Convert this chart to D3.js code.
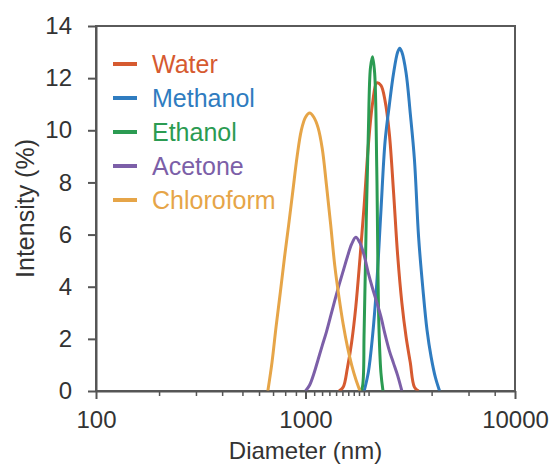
<!DOCTYPE html>
<html>
<head>
<meta charset="utf-8">
<script src="https://cdn.jsdelivr.net/npm/d3@7"></script>
<style>
  html, body { margin: 0; padding: 0; background: #fff; }
  svg text { font-family: "Liberation Sans", Arial, sans-serif; }
</style>
</head>
<body>
<svg id="chart" width="554" height="469"></svg>
<script>
// Size distributions (intensity-weighted) for particles dispersed in each solvent
const seriesNames = ["Water", "Methanol", "Ethanol", "Acetone", "Chloroform"];
const seriesColors = ["#d65a30", "#2f7cc0", "#2b9b52", "#7c5fa8", "#e6a548"];

const waterSizes = [1445, 1514, 1585, 1660, 1738, 1820, 1905, 1995, 2089, 2188, 2291, 2399, 2512, 2630, 2754, 2884, 3020, 3162, 3311, 3467];
const waterValues = [0, 0.15, 0.88, 1.86, 3.23, 5.09, 7.11, 9.42, 11.03, 11.82, 11.72, 11.12, 9.88, 7.67, 5.20, 3.38, 2.08, 1.10, 0.15, 0];

const methanolSizes = [1905, 1995, 2089, 2188, 2291, 2399, 2512, 2630, 2754, 2818, 2884, 3020, 3162, 3311, 3467, 3631, 3802, 3981, 4169, 4365];
const methanolValues = [0, 0.72, 2.10, 4.11, 6.90, 9.59, 10.96, 12.17, 13.0, 13.15, 13.0, 12.21, 10.66, 8.88, 5.89, 3.95, 2.34, 1.29, 0.52, 0];

const ethanolSizes = [1820, 1862, 1905, 1950, 1995, 2042, 2089, 2138, 2188, 2239, 2291, 2344];
const ethanolValues = [0, 0.1, 2.3, 6.6, 9.9, 12.4, 12.82, 12.2, 8.6, 2.6, 0.7, 0];

const acetoneSizes = [1000, 1047, 1096, 1148, 1202, 1259, 1318, 1380, 1445, 1514, 1585, 1660, 1738, 1820, 1905, 1995, 2089, 2188, 2291, 2399, 2512, 2630, 2754, 2884];
const acetoneValues = [0, 0.23, 0.66, 1.20, 1.74, 2.27, 2.87, 3.48, 4.06, 4.61, 5.15, 5.63, 5.90, 5.68, 5.20, 4.52, 3.94, 3.41, 2.85, 2.16, 1.55, 1.07, 0.59, 0];

const chloroformSizes = [661, 692, 724, 759, 794, 832, 871, 912, 955, 1000, 1047, 1096, 1148, 1202, 1259, 1318, 1380, 1445, 1514, 1585, 1660, 1738, 1820];
const chloroformValues = [0, 1.1, 2.48, 3.81, 5.13, 6.4, 7.7, 9.0, 10.0, 10.5, 10.66, 10.5, 10.1, 9.3, 7.9, 6.4, 4.8, 3.6, 2.55, 1.7, 1.0, 0.45, 0];

const xMajorTicks = [100, 1000, 10000];
const xMinorTicks = [200, 300, 400, 500, 600, 700, 800, 900,
                     1100, 1200, 1300, 1400, 1500, 1600, 1700, 1800, 1900,
                     2000, 4000, 6000, 8000];
const yTicks = [0, 2, 4, 6, 8, 10, 12, 14];

const seriesSizes = [waterSizes, methanolSizes, ethanolSizes, acetoneSizes, chloroformSizes];
const seriesValues = [waterValues, methanolValues, ethanolValues, acetoneValues, chloroformValues];

const series = seriesNames.map((name, i) => ({
  name,
  color: seriesColors[i],
  points: seriesSizes[i].map((s, j) => ({ size: s, value: seriesValues[i][j] }))
}));

const plot = { left: 96, right: 515, top: 26, bottom: 391 };
const svg = d3.select("#chart");

const x = d3.scaleLog().domain([100, 10000]).range([plot.left, plot.right]);
const y = d3.scaleLinear().domain([0, 14]).range([plot.bottom, plot.top]);

// keep the smoothed curves inside the plot area
svg.append("defs").append("clipPath").attr("id", "plot-clip")
  .append("rect")
  .attr("x", plot.left).attr("y", plot.top - 10)
  .attr("width", plot.right - plot.left).attr("height", plot.bottom - plot.top + 10);

// plot frame
svg.append("rect")
  .attr("x", plot.left).attr("y", plot.top)
  .attr("width", plot.right - plot.left).attr("height", plot.bottom - plot.top)
  .attr("fill", "none").attr("stroke", "#5a5a5a").attr("stroke-width", 2);

// distribution curves
const line = d3.line()
  .x(d => x(d.size))
  .y(d => y(d.value))
  .curve(d3.curveCatmullRom.alpha(0.5));

svg.append("g")
  .attr("clip-path", "url(#plot-clip)")
  .selectAll("path")
  .data(series)
  .join("path")
  .attr("d", d => line(d.points))
  .attr("fill", "none")
  .attr("stroke", d => d.color)
  .attr("stroke-width", 3)
  .attr("stroke-linejoin", "round");

// minor x ticks
const xMinor = svg.append("g")
  .attr("transform", `translate(0,${plot.bottom})`)
  .call(d3.axisBottom(x).tickValues(xMinorTicks).tickSize(5).tickFormat(""));
xMinor.select(".domain").remove();
xMinor.selectAll("line").attr("stroke", "#555").attr("stroke-width", 1.5);

// major x ticks and labels
const xAxis = svg.append("g")
  .attr("transform", `translate(0,${plot.bottom})`)
  .call(d3.axisBottom(x).tickValues(xMajorTicks).tickSize(8).tickSizeOuter(0)
        .tickPadding(12).tickFormat(d3.format("d")));
xAxis.select(".domain").attr("stroke", "#555").attr("stroke-width", 2);
xAxis.selectAll("line").attr("stroke", "#555").attr("stroke-width", 2);
xAxis.selectAll("text").attr("font-size", 24).attr("fill", "#333")
  .attr("font-family", "'Liberation Sans', Arial, sans-serif");

// y axis
const yAxis = svg.append("g")
  .attr("transform", `translate(${plot.left},0)`)
  .call(d3.axisLeft(y).tickValues(yTicks).tickSize(8).tickSizeOuter(0).tickPadding(16));
yAxis.select(".domain").attr("stroke", "#555").attr("stroke-width", 2);
yAxis.selectAll("line").attr("stroke", "#555").attr("stroke-width", 2);
yAxis.selectAll("text").attr("font-size", 24).attr("fill", "#333")
  .attr("font-family", "'Liberation Sans', Arial, sans-serif");

// axis titles
svg.append("text")
  .attr("x", (plot.left + plot.right) / 2).attr("y", 459)
  .attr("text-anchor", "middle").attr("font-size", 24).attr("fill", "#333")
  .text("Diameter (nm)");

svg.append("text")
  .attr("transform", `translate(34,${(plot.top + plot.bottom) / 2}) rotate(-90)`)
  .attr("text-anchor", "middle").attr("font-size", 25).attr("fill", "#333")
  .text("Intensity (%)");

// legend
const legend = svg.append("g");
const rows = legend.selectAll("g")
  .data(series)
  .join("g")
  .attr("transform", (d, i) => `translate(113,${64 + i * 34})`);
rows.append("line")
  .attr("x1", 0).attr("x2", 24).attr("y1", 0).attr("y2", 0)
  .attr("stroke", d => d.color).attr("stroke-width", 4);
rows.append("text")
  .attr("x", 39).attr("dy", "0.36em")
  .attr("font-size", 25).attr("fill", d => d.color)
  .text(d => d.name);
</script>
</body>
</html>
